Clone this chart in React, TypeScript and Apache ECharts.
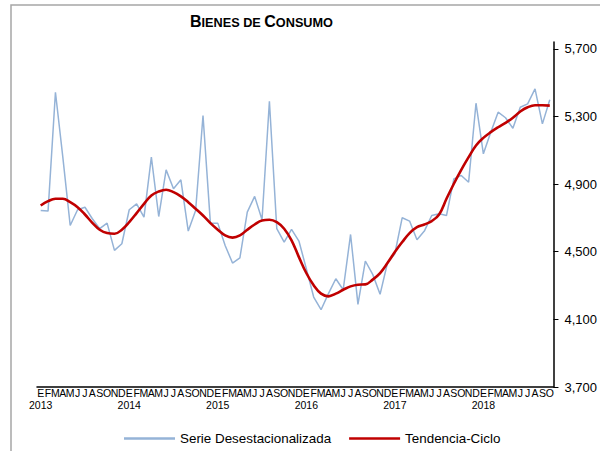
import React, { useEffect, useRef } from "react";
import * as echarts from "echarts";

const monthLetters = ["E", "F", "M", "A", "M", "J", "J", "A", "S", "O", "N", "D"];
const years = [2013, 2014, 2015, 2016, 2017, 2018];
const monthCount = 70; // Jan 2013 .. Oct 2018

const serieDesestacionalizada = [
  4744, 4740, 5443, 5059, 4655, 4748, 4763, 4695, 4636, 4669, 4508, 4547,
  4748, 4783, 4704, 5059, 4708, 4984, 4872, 4925, 4622, 4744, 5305, 4669,
  4669, 4537, 4433, 4464, 4734, 4827, 4689, 5390, 4636, 4557, 4632, 4563,
  4400, 4232, 4157, 4252, 4340, 4275, 4602, 4189, 4445, 4366, 4248, 4433,
  4488, 4701, 4681, 4571, 4622, 4714, 4724, 4714, 4931, 4951, 4911, 5378,
  5079, 5207, 5325, 5292, 5230, 5354, 5374, 5463, 5256, 5398,
];

const tendenciaCiclo = [
  4773, 4799, 4813, 4813, 4793, 4763, 4720, 4671, 4630, 4610, 4606, 4630,
  4675, 4728, 4783, 4833, 4856, 4866, 4852, 4827, 4793, 4754, 4714, 4669,
  4630, 4596, 4583, 4596, 4630, 4661, 4685, 4689, 4675, 4636, 4567, 4468,
  4374, 4301, 4252, 4236, 4252, 4275, 4295, 4305, 4307, 4335, 4374, 4433,
  4498, 4557, 4610, 4645, 4661, 4681, 4720, 4813, 4902, 4984, 5059, 5128,
  5173, 5207, 5236, 5262, 5292, 5329, 5354, 5366, 5366, 5364,
];

const yTicks = [3700, 4100, 4500, 4900, 5300, 5700];

const categories: string[] = [];
for (let i = 0; i < monthCount; i++) {
  const y = years[Math.floor(i / 12)];
  categories.push(`${y}-${i % 12}`);
}

const FONT = "Liberation Sans, Arial, sans-serif";

export default function App() {
  const ref = useRef<HTMLDivElement>(null);
  useEffect(() => {
    if (!ref.current) return;
    const chart = echarts.init(ref.current, undefined, { renderer: "svg" });
    chart.setOption({
      animation: false,
      backgroundColor: "#ffffff",
      textStyle: { fontFamily: FONT },
      title: {
        text: "{b|B}{s|IENES DE }{b|C}{s|ONSUMO}",
        left: 190,
        top: 13,
        padding: 0,
        textStyle: {
          rich: {
            b: { fontSize: 16, fontWeight: "bold", fontFamily: FONT, color: "#000", verticalAlign: "bottom" },
            s: { fontSize: 12.7, fontWeight: "bold", fontFamily: FONT, color: "#000", verticalAlign: "bottom" },
          },
        },
      },
      graphic: [
        {
          type: "rect",
          shape: { x: 11, y: 5, width: 640, height: 500 },
          style: { fill: "none", stroke: "#a6a6a6", lineWidth: 1.5 },
          silent: true,
        },
      ],
      legend: {
        left: 124,
        top: 431,
        padding: 0,
        icon: "rect",
        itemWidth: 51,
        itemHeight: 2.5,
        itemGap: 18,
        textStyle: { fontSize: 13.4, fontFamily: FONT, color: "#000", lineHeight: 15 },
        data: ["Serie Desestacionalizada", "Tendencia-Ciclo"],
      },
      grid: { left: 37, right: 44, top: 42, bottom: 64 },
      xAxis: {
        type: "category",
        data: categories,
        boundaryGap: true,
        axisLine: { lineStyle: { color: "#000", width: 1.5 } },
        axisTick: { show: false },
        axisLabel: {
          interval: 0,
          margin: 0,
          fontSize: 10.5,
          lineHeight: 12,
          color: "#000",
          fontFamily: FONT,
          formatter: (v: string) => {
            const [y, m] = v.split("-");
            const mi = parseInt(m, 10);
            return mi === 0 ? `${monthLetters[mi]}\n${y}` : monthLetters[mi];
          },
        },
      },
      yAxis: {
        type: "value",
        position: "right",
        min: 3700,
        max: 5740,
        interval: 400,
        splitLine: { show: false },
        axisLine: { show: true, lineStyle: { color: "#000", width: 1.5 } },
        axisTick: { show: true, length: 5, lineStyle: { color: "#000" }, customValues: yTicks },
        axisLabel: {
          margin: 11,
          fontSize: 13,
          color: "#000",
          fontFamily: FONT,
          customValues: yTicks,
          formatter: (v: number) => v.toLocaleString("en-US"),
        },
      },
      series: [
        {
          name: "Serie Desestacionalizada",
          type: "line",
          data: serieDesestacionalizada,
          symbol: "none",
          lineStyle: { color: "#95b3d7", width: 1.5 },
          itemStyle: { color: "#95b3d7" },
        },
        {
          name: "Tendencia-Ciclo",
          type: "line",
          data: tendenciaCiclo,
          symbol: "none",
          smooth: 0.4,
          lineStyle: { color: "#c00000", width: 2.6 },
          itemStyle: { color: "#c00000" },
        },
      ],
    });
    return () => chart.dispose();
  }, []);
  return (
    <div
      ref={ref}
      style={{ position: "absolute", left: 0, top: 0, width: 600, height: 451 }}
    />
  );
}
